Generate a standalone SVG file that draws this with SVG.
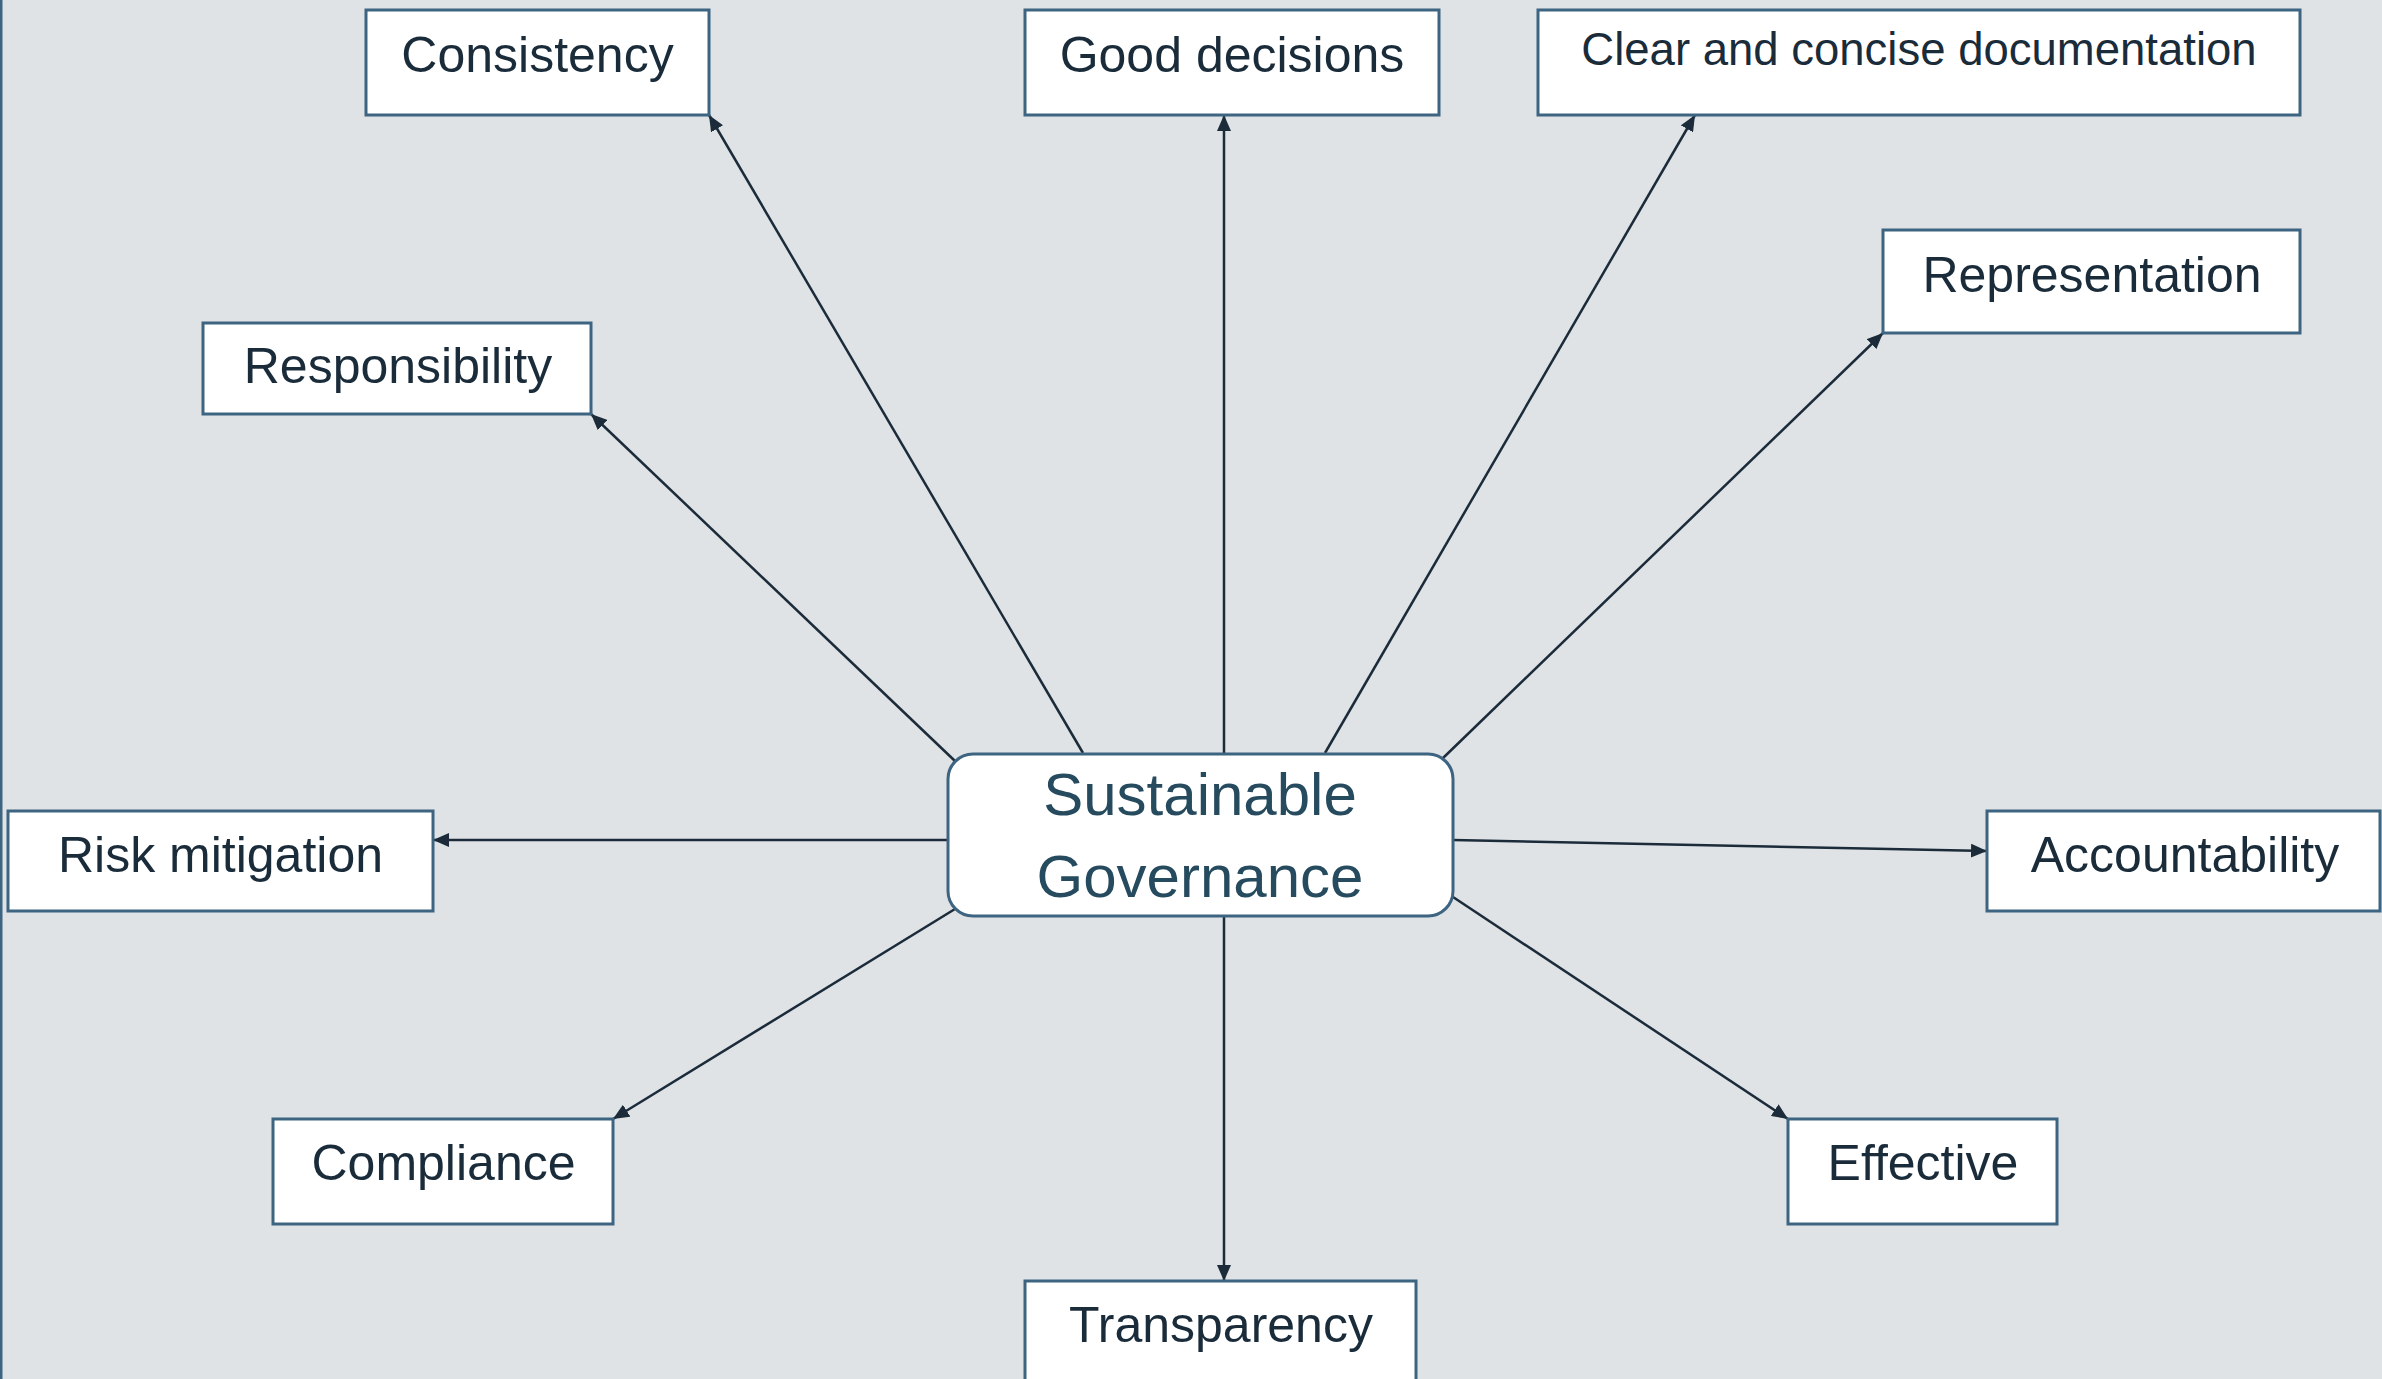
<svg xmlns="http://www.w3.org/2000/svg" width="2382" height="1379" viewBox="0 0 2382 1379">
  <style>
    .box { fill: #ffffff; stroke: #3d6480; stroke-width: 3; }
    .hub { fill: #ffffff; stroke: #3d6480; stroke-width: 3; }
    .lbl { font-family: "Liberation Sans", Arial, sans-serif; font-size: 50px; fill: #1a2b3a; text-anchor: middle; }
    .hubtxt { font-family: "Liberation Sans", Arial, sans-serif; font-size: 60px; fill: #264a5e; text-anchor: middle; }
    .edge { stroke: #1b2b3a; stroke-width: 2.5; fill: none; marker-end: url(#arrow); }
  </style>
  <defs>
    <marker id="arrow" markerUnits="userSpaceOnUse" viewBox="0 0 16 14" refX="16" refY="7" markerWidth="16" markerHeight="14" orient="auto">
      <path d="M0,0 L16,7 L0,14 z" fill="#1b2b3a"/>
    </marker>
  </defs>

  <!-- canvas -->
  <rect x="0" y="0" width="2382" height="1379" fill="#dfe3e6"/>
  <rect x="0" y="0" width="2.5" height="1379" fill="#3d6480"/>

  <!-- spokes from the hub -->
  <g id="connectors">
    <line class="edge" x1="1083" y1="753" x2="709" y2="115"/>
    <line class="edge" x1="1224" y1="753" x2="1224" y2="115"/>
    <line class="edge" x1="1325" y1="753" x2="1695" y2="115"/>
    <line class="edge" x1="1442" y1="759" x2="1883" y2="333"/>
    <line class="edge" x1="955" y1="761" x2="591" y2="414"/>
    <line class="edge" x1="948" y1="840" x2="433" y2="840"/>
    <line class="edge" x1="1453" y1="840" x2="1987" y2="851"/>
    <line class="edge" x1="1453" y1="897" x2="1788" y2="1119"/>
    <line class="edge" x1="955" y1="909" x2="613" y2="1119"/>
    <line class="edge" x1="1224" y1="916" x2="1224" y2="1281"/>
  </g>

  <g id="hub">
    <rect class="hub" x="948" y="754" width="505" height="162" rx="25" ry="25"/>
    <text class="hubtxt" x="1200" y="815">Sustainable</text>
    <text class="hubtxt" x="1200" y="897">Governance</text>
  </g>

  <g id="consistency">
    <rect class="box" x="366" y="10" width="343" height="105"/>
    <text class="lbl" x="537.5" y="72" font-size="49">Consistency</text>
  </g>

  <g id="good-decisions">
    <rect class="box" x="1025" y="10" width="414" height="105"/>
    <text class="lbl" x="1232" y="72">Good decisions</text>
  </g>

  <g id="documentation">
    <rect class="box" x="1538" y="10" width="762" height="105"/>
    <text class="lbl" x="1919" y="65" style="font-size:45.5px">Clear and concise documentation</text>
  </g>

  <g id="representation">
    <rect class="box" x="1883" y="230" width="417" height="103"/>
    <text class="lbl" x="2092" y="292">Representation</text>
  </g>

  <g id="responsibility">
    <rect class="box" x="203" y="323" width="388" height="91"/>
    <text class="lbl" x="398" y="383">Responsibility</text>
  </g>

  <g id="risk-mitigation">
    <rect class="box" x="8" y="811" width="425" height="100"/>
    <text class="lbl" x="220.5" y="872">Risk mitigation</text>
  </g>

  <g id="accountability">
    <rect class="box" x="1987" y="811" width="393" height="100"/>
    <text class="lbl" x="2185" y="872">Accountability</text>
  </g>

  <g id="compliance">
    <rect class="box" x="273" y="1119" width="340" height="105"/>
    <text class="lbl" x="443.5" y="1180">Compliance</text>
  </g>

  <g id="effective">
    <rect class="box" x="1788" y="1119" width="269" height="105"/>
    <text class="lbl" x="1923" y="1180">Effective</text>
  </g>

  <g id="transparency">
    <rect class="box" x="1025" y="1281" width="391" height="120"/>
    <text class="lbl" x="1221" y="1342" font-size="49">Transparency</text>
  </g>
</svg>
